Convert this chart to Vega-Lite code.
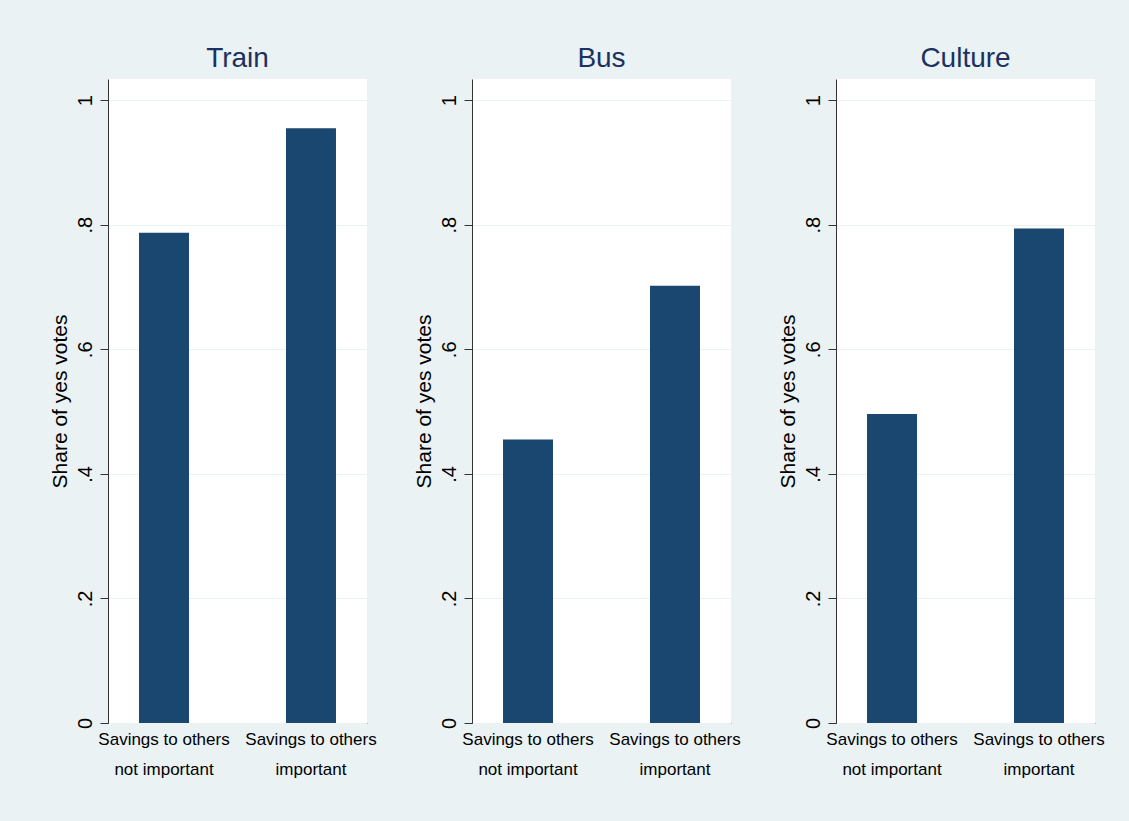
{
  "$schema": "https://vega.github.io/schema/vega-lite/v6.json",
  "background": "#EAF2F3",
  "padding": {"left": 49, "top": 45, "right": 24, "bottom": 45},
  "bounds": "flush",
  "spacing": 105,
  "data": {
    "values": [
      {"service": "Train", "savings": "not important", "share": 0.787},
      {"service": "Train", "savings": "important", "share": 0.955},
      {"service": "Bus", "savings": "not important", "share": 0.455},
      {"service": "Bus", "savings": "important", "share": 0.702},
      {"service": "Culture", "savings": "not important", "share": 0.496},
      {"service": "Culture", "savings": "important", "share": 0.794}
    ]
  },
  "facet": {
    "column": {
      "field": "service",
      "type": "nominal",
      "sort": ["Train", "Bus", "Culture"],
      "title": null,
      "header": {
        "labelFont": "Liberation Sans",
        "labelFontSize": 28,
        "labelColor": "#1C3160",
        "labelPadding": 6
      }
    }
  },
  "spec": {
    "width": 259,
    "height": 644,
    "mark": {"type": "bar", "color": "#1A476F"},
    "encoding": {
      "x": {
        "field": "savings",
        "type": "nominal",
        "sort": ["not important", "important"],
        "scale": {"paddingInner": 0.66, "paddingOuter": 0.211},
        "axis": {
          "title": null,
          "labelExpr": "['Savings to others', datum.value]",
          "labelAngle": 0,
          "labelFont": "Liberation Sans",
          "labelFontSize": 17,
          "labelColor": "#000000",
          "labelLineHeight": 30,
          "labelPadding": 8,
          "ticks": false,
          "domainColor": "#000000",
          "domainWidth": 1.2,
          "grid": false
        }
      },
      "y": {
        "field": "share",
        "type": "quantitative",
        "scale": {"domain": [0, 1.034], "nice": false, "zero": true},
        "axis": {
          "title": "Share of yes votes",
          "titleFont": "Liberation Sans",
          "titleFontSize": 21,
          "titleFontWeight": "normal",
          "titleColor": "#000000",
          "titlePadding": 5,
          "values": [0, 0.2, 0.4, 0.6, 0.8, 1],
          "labelExpr": "replace(format(datum.value, '.1~f'), '0.', '.')",
          "labelAngle": -90,
          "labelFont": "Liberation Sans",
          "labelFontSize": 20,
          "labelColor": "#000000",
          "labelPadding": 5,
          "tickSize": 8,
          "tickColor": "#333333",
          "domainColor": "#333333",
          "gridColor": "#EAF2F3",
          "gridWidth": 1.2
        }
      }
    }
  },
  "resolve": {"axis": {"y": "independent"}},
  "config": {
    "view": {"fill": "#FFFFFF", "stroke": null},
    "font": "Liberation Sans"
  }
}
